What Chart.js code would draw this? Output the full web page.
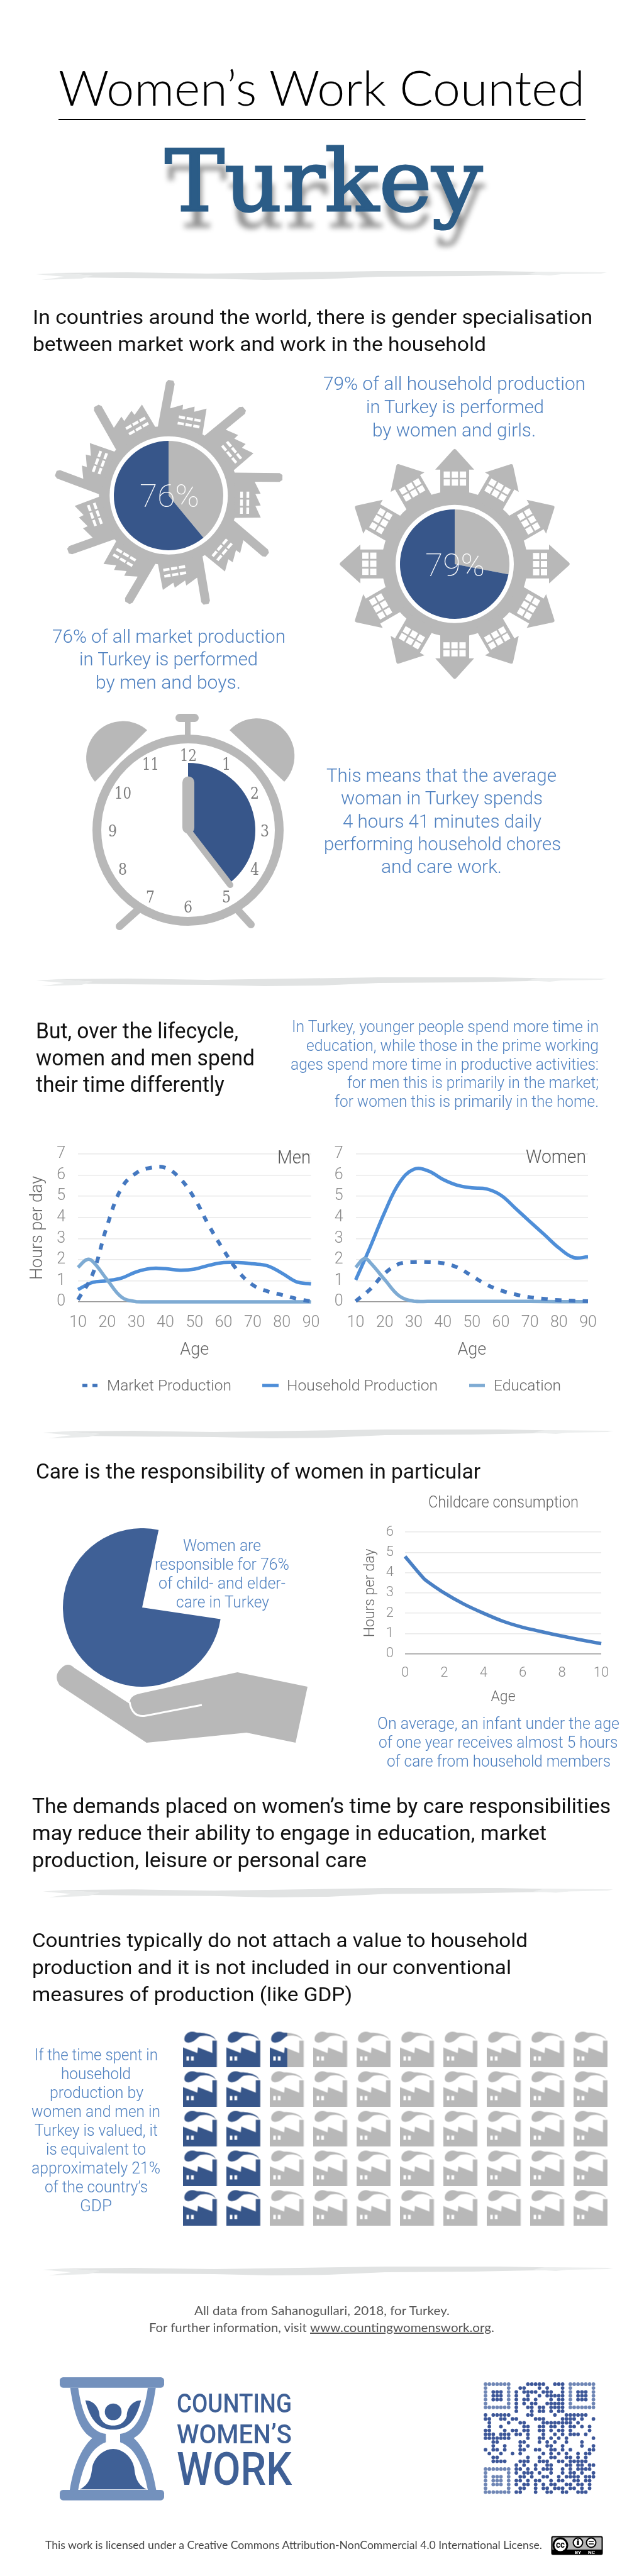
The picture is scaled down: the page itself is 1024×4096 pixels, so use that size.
<!DOCTYPE html>
<html><head><meta charset="utf-8"><title>Women's Work Counted: Turkey</title>
<script src="https://cdn.jsdelivr.net/npm/chart.js@4"></script>
<style>
html,body{margin:0;padding:0;background:#fff}
#page{position:relative;width:1024px;height:4096px;overflow:hidden;background:#fff}
#page canvas,#page svg{position:absolute}
.t{position:absolute;white-space:nowrap;transform-origin:0 0;z-index:5}
</style></head><body><div id="page"></div>
<script>
// ---------- data ----------
const marketShare=[39,61];            // grey, blue as drawn
const householdShare=[28,72];
const clockHours=[4.68,7.32];
const careShare=[24,76];
const lifeAges=[10,15,20,25,30,35,40,45,50,55,60,65,70,75,80,85,90];
const eduAges=[10,13,15,20,25,30,35,40,50,60,70,80,90];
const menMarket=[0.1,1.3,3.6,5.4,6.1,6.35,6.35,5.85,4.9,3.6,2.45,1.45,0.8,0.5,0.33,0.15,0.02];
const menHousehold=[0.58,0.92,1.0,1.13,1.42,1.58,1.57,1.5,1.55,1.73,1.86,1.86,1.8,1.71,1.36,0.95,0.85];
const menEducation=[1.63,2.0,1.92,1.05,0.22,0.01,0,0,0,0,0,0,0];
const womenMarket=[0.03,0.6,1.35,1.8,1.88,1.88,1.83,1.63,1.23,0.82,0.54,0.35,0.22,0.14,0.08,0.05,0.03];
const womenHousehold=[1.04,2.6,4.25,5.63,6.28,6.2,5.8,5.52,5.4,5.35,5.05,4.43,3.8,3.18,2.55,2.1,2.13];
const womenEducation=[1.63,2.05,1.86,1.05,0.28,0.03,0.02,0.02,0.02,0.02,0.02,0.01,0.01];
const childAges=[0,1,2,3,4,5,6,7,8,9,10];
const childCare=[4.8,3.67,3.0,2.45,2.0,1.6,1.3,1.08,0.87,0.68,0.5];
const factoryFill=[
 [1,1,0.5,0,0,0,0,0,0,0],
 [1,1,0,0,0,0,0,0,0,0],
 [1,1,0,0,0,0,0,0,0,0],
 [1,1,0,0,0,0,0,0,0,0],
 [1,1,0,0,0,0,0,0,0,0]];
const qrRows=[
"11111110000111110011101111111","10000010011000101000101000001","10111010101111011100101011101",
"10111010100100101111101011101","10111010101101000101101011101","10000010101011001111101000001",
"11111110100110110111101111111","00000000100010110101100000000","10111110000110000010011111100",
"11001101100001110000111101001","01000010011000011111111010000","01001000001100110110101101010",
"11000101101100110101101000010","11101110110100010010101110100","11111110000100110101010000001",
"00110000011000101010010001000","00100100010100001100100001001","10110100011001100110101000011",
"01001001010000010101010010110","00110000000100100110011010100","00111100011100111001101111100",
"00000000101001001100011011011","11111110110101011100101011110","10000010101110100100101101001",
"10111010011010011001011110111","10111010110101100101100110110","10111010101101010110011011010",
"10000010011001011011101101010","11111110110001001100110011100"];
// ---------- helpers ----------
const page=document.getElementById('page');
const BLUE='#4f81c0',INK='#111',GREY='#b8b8b8',NAVY='#37568a',MID='#3f6096';
const LIGHT='Roboto',HEAD='Roboto';
function line(txt,x0,x1,base,size,color,o={}){
  const d=document.createElement('div');d.className='t';d.textContent=txt;
  d.style.cssText+=`left:0;top:0;font:${o.w||300} ${size}px ${o.f||LIGHT},sans-serif;color:${color};`+(o.css||'');
  const p=document.createElement('span');p.style.cssText='display:inline-block;width:0;height:0';d.appendChild(p);
  page.appendChild(d);
  const by=p.getBoundingClientRect().bottom-page.getBoundingClientRect().top,w=d.getBoundingClientRect().width;
  p.remove();
  d.style.left=x0+'px';d.style.top=(base-by)+'px';
  d.style.transform=`scaleX(${(x1-x0)/w})`;
  return d;
}
function svgLayer(z,inner){
  const s=document.createElementNS('http://www.w3.org/2000/svg','svg');
  s.setAttribute('width',1024);s.setAttribute('height',4096);s.setAttribute('viewBox','0 0 1024 4096');
  s.style.cssText=`left:0;top:0;z-index:${z}`;s.innerHTML=inner;page.appendChild(s);return s;
}
function cvs(x,y,w,h,z=2){
  const c=document.createElement('canvas');c.width=w;c.height=h;
  c.style.cssText=`left:${x}px;top:${y}px;width:${w}px;height:${h}px;z-index:${z}`;
  page.appendChild(c);return c;
}
function pie(cx,cy,r,data,colors,rotation=0){
  new Chart(cvs(cx-r,cy-r,2*r,2*r),{type:'pie',data:{datasets:[{data,backgroundColor:colors,borderWidth:0}]},
   options:{responsive:false,animation:false,rotation,plugins:{legend:{display:false},tooltip:{enabled:false}},layout:{padding:0}}});
}
// ---------- decoration ----------
function brush(x,y,w,h){
  const X=v=>(x+w*v/100).toFixed(1),Y=v=>(y+h*v/16).toFixed(1);
  const pts=(a)=>a.map(p=>X(p[0])+','+Y(p[1])).join(' ');
  return `<polygon fill="#e1e3e3" points="${pts([[3,4],[16,3],[30,5],[45,3],[60,1],[80,1],[93,3],[92,6],[75,9],[60,10],[50,14],[40,15],[30,13],[15,12],[6,11],[10,8]])}"/>
  <polygon fill="#e9ebeb" points="${pts([[0,6],[4,4],[10,8],[8,13],[1,15],[5,10]])}"/>
  <polygon fill="#eceeee" points="${pts([[88,2],[100,3],[99,5],[92,6],[90,8],[86,6]])}"/>`;
}
function city(cx,cy){
  let g=`<circle cx="${cx}" cy="${cy}" r="111" fill="${GREY}"/><circle cx="${cx}" cy="${cy}" r="94" fill="#fff"/>`;
  for(let k=0;k<9;k++){
    const a=10.5+40*k;
    g+=`<g transform="translate(${cx} ${cy}) rotate(${a})">
    <polygon fill="${GREY}" points="-37,-104 -37,-176 -34,-180.5 -26,-180.5 -23,-176 -23,-136.7 -22.4,-136.7 -3.9,-146 -3.3,-137.8 14.7,-146.3 15.7,-138 34,-146.6 35,-104"/>`;
    for(let r=0;r<2;r++)for(let c=0;c<3;c++)g+=`<rect x="${-7+c*12.6}" y="${-128+r*10}" width="10" height="4.4" fill="#fff"/>`;
    g+='</g>';
  }
  return g;
}
function houses(cx,cy){
  let g=`<circle cx="${cx}" cy="${cy}" r="116" fill="${GREY}"/><circle cx="${cx}" cy="${cy}" r="94" fill="#fff"/>`;
  for(let k=0;k<12;k++){
    g+=`<g transform="translate(${cx} ${cy}) rotate(${30*k})"><polygon fill="${GREY}" points="-23,-105 -23,-150 -31,-150 -2,-182 0,-183 2,-182 31,-150 23,-150 23,-105"/>`;
    for(let r=0;r<2;r++)for(let c=0;c<3;c++)g+=`<rect x="${-17.5+c*12.8}" y="${-147+r*12.5}" width="10" height="10" fill="#fff"/>`;
    g+='</g>';
  }
  return g;
}
function clockBack(){
  return `<circle cx="299" cy="1320" r="145" fill="#fff" stroke="${GREY}" stroke-width="14"/>
  <rect x="294" y="1145" width="9" height="24" fill="${GREY}"/>
  <rect x="279" y="1135" width="37" height="13" rx="6.5" fill="${GREY}"/>
  <path d="M151 1243 A58.5 58.5 0 0 1 234 1161 Z" fill="${GREY}"/>
  <path d="M452 1243 A58.5 58.5 0 0 0 365 1161 Z" fill="${GREY}"/>
  <line x1="219" y1="1447" x2="190" y2="1473" stroke="${GREY}" stroke-width="12" stroke-linecap="round"/>
  <line x1="378" y1="1447" x2="399" y2="1470" stroke="${GREY}" stroke-width="12" stroke-linecap="round"/>`;
}
const clockHands=`<line x1="299.5" y1="1244" x2="299.5" y2="1316" stroke="${GREY}" stroke-width="19" stroke-linecap="round"/>
  <line x1="299" y1="1320" x2="366" y2="1407" stroke="${GREY}" stroke-width="10" stroke-linecap="round"/>`;
const handShape=`<path fill="${GREY}" d="M98 2652 Q108 2642 118 2652 L206 2709 Q206 2696 222 2693 L377.5 2659 L489 2682 L470 2771 L392 2755 L233 2771 L95 2680 Q84 2664 98 2652 Z"/>
 <path fill="none" stroke="#fff" stroke-width="3" d="M321 2711 L232 2728 Q210 2732 206 2706"/>`;
function logo(){
  const s=`<path fill="#7391bd" d="M80 80 C100 220 130 290 185 320 C130 370 95 460 78 567 L118 567 C140 460 170 370 250 340 L250 300 C170 290 135 200 118 80 Z"/>`;
  return `<g transform="translate(85 3770) scale(.3333)">
  <rect x="30" y="30" width="498" height="50" rx="16" fill="#7391bd"/><rect x="30" y="567" width="498" height="50" rx="16" fill="#7391bd"/>
  ${s}<g transform="translate(568 0) scale(-1 1)">${s}</g>
  <circle cx="285" cy="195" r="40" fill="${MID}"/>
  <path fill="${MID}" d="M152 140 C195 140 220 180 220 215 C235 255 265 260 285 260 C305 260 335 255 350 215 C350 180 375 140 418 140 C400 210 370 280 285 280 C200 280 170 210 152 140 Z"/>
  <path fill="${MID}" d="M125 565 C175 540 180 500 185 460 C195 410 240 372 285 372 C330 372 375 410 385 460 C390 500 395 540 445 565 Z"/></g>`;
}
function qr(){
  let g='';const x0=772,y0=3791,p=6.13;
  qrRows.forEach((row,r)=>{[...row].forEach((b,c)=>{
    if(b!=='1')return;
    const finder=(r<7&&c<7)||(r<7&&c>21)||(r>21&&c<7);
    const ring=finder&&!((r>=2&&r<=4)&&((c>=2&&c<=4)||(c>=24&&c<=26)));
    g+=`<circle cx="${(x0+c*p).toFixed(1)}" cy="${(y0+r*p).toFixed(1)}" r="2.9" fill="${ring?'#6f86b5':'#3c5698'}"/>`;
  })});
  return g;
}
const ccBadge=`<rect x="877.5" y="4033.5" width="80" height="28" rx="2" fill="#b5b5b5" stroke="#000" stroke-width="2"/>
 <rect x="877" y="4054" width="81" height="8" fill="#000"/>
 <circle cx="891" cy="4047" r="11" fill="#fff" stroke="#000" stroke-width="3"/>
 <circle cx="919" cy="4043" r="7.5" fill="#fff" stroke="#000" stroke-width="2"/><rect x="917.5" y="4040" width="3" height="7" fill="#000"/><circle cx="919" cy="4038.5" r="1.3" fill="#000"/>
 <circle cx="940" cy="4043" r="7.5" fill="#fff" stroke="#000" stroke-width="2"/><path d="M936 4041 H944 M936 4045 H944" stroke="#000" stroke-width="1.5"/>`;
svgLayer(1,
 `<rect x="93" y="189" width="838" height="2" fill="#000"/>`+
 brush(57,430,908,16)+brush(57,1553,908,16)+brush(68,2272,907,16)+brush(68,3001,907,17)+brush(68,3603,907,16)+
 city(268.3,787.7)+houses(723,896.7)+clockBack()+handShape+logo()+qr()+ccBadge+
 `<path d="M131 2203 H155" stroke="#3f74bb" stroke-width="5" stroke-dasharray="8 8"/><path d="M417 2203 H443" stroke="#4e8ed8" stroke-width="5"/><path d="M746 2203 H771" stroke="#7eabd3" stroke-width="5"/>`);
// ---------- pies ----------
pie(268.3,787.7,87,marketShare,[GREY,NAVY]);
pie(723,896.7,87,householdShare,[GREY,NAVY]);
pie(299,1320,107,clockHours,[NAVY,'rgba(0,0,0,0)']);
pie(226,2556,126,careShare,['rgba(0,0,0,0)',MID],12);
svgLayer(3,clockHands);
// ---------- line charts ----------
const pairs=(xs,ys)=>ys.map((y,i)=>({x:xs[i],y}));
function lineChart(box,plot,xcfg,ycfg,datasets,titles,fonts){
  const[cl,ct,cr,cb]=box,[pl,pt,pr,pb]=plot;
  const tick={family:LIGHT,weight:'300',size:fonts.tick};
  const ttl={family:LIGHT,weight:'300',size:fonts.title};
  const ch=new Chart(cvs(cl,ct,cr-cl,cb-ct),{type:'line',data:{datasets},options:{
    responsive:false,animation:false,parsing:false,
    layout:{padding:{left:0,top:pt-ct,right:cr-pr,bottom:0}},
    plugins:{legend:{display:false},tooltip:{enabled:false}},
    elements:{point:{radius:0}},
    scales:{
     x:{type:'linear',min:xcfg.min,max:xcfg.max,border:{display:false},grid:{display:false,drawTicks:false},
        ticks:{stepSize:xcfg.step,color:'#8a8a8a',font:tick,padding:fonts.xpad,maxRotation:0,autoSkip:false},
        title:{display:true,text:titles.x,color:'#666',font:ttl,padding:0},
        afterFit:s=>{s.height=cb-pb}},
     y:{type:'linear',min:0,max:ycfg.max,border:{display:false},
        grid:{drawTicks:false,lineWidth:1.5,color:c=>c.tick.value===0?'#9a9a9a':'#e9e9e9'},
        ticks:{stepSize:1,color:'#8a8a8a',font:tick,padding:fonts.ypad},
        title:{display:!!titles.y,text:titles.y,color:'#666',font:ttl,padding:0},
        afterFit:s=>{s.width=pl-cl}}
    }}});
  // label overhang is added to the layout padding: correct it so the plot sits where the reference has it
  for(let i=0;i<3;i++){
    const a=ch.chartArea,pad=ch.options.layout.padding;
    pad.top-=(ct+a.top)-pt;
    pad.right+=(cl+a.right)-pr;
    ch.update();
  }
}
const ser=(xs,ys,color,dash)=>({data:pairs(xs,ys),borderColor:color,borderWidth:dash?6:5.5,borderDash:dash||[],tension:.4,clip:false,fill:false,borderCapStyle:'butt'});
const F={tick:25,title:27,xpad:19,ypad:20};
lineChart([44,1800,530,2163],[124,1821.5,494.5,2070],{min:10,max:90,step:10},{max:7},
 [ser(lifeAges,menMarket,'#4478c0',[10,12]),ser(eduAges,menEducation,'#7eabd3'),ser(lifeAges,menHousehold,'#4e8ed8')],{x:'Age',y:'Hours per day'},F);
lineChart([525,1800,970,2163],[565.6,1821.5,935,2070],{min:10,max:90,step:10},{max:7},
 [ser(lifeAges,womenMarket,'#4478c0',[10,12]),ser(eduAges,womenEducation,'#7eabd3'),ser(lifeAges,womenHousehold,'#4e8ed8')],{x:'Age',y:''},F);
lineChart([575,2405,990,2713],[644,2428.7,956,2629.6],{min:0,max:10,step:2},{max:6},
 [ser(childAges,childCare,'#4a80c4')].map(d=>({...d,tension:.15})),{x:'Age',y:'Hours per day'},{tick:22,title:23,xpad:18,ypad:18});
// ---------- factory pictogram ----------
function factoryIcon(share){
  const c=document.createElement('canvas');c.width=55;c.height=57;const x=c.getContext('2d');
  const paint=col=>{
    x.fillStyle=col;
    x.beginPath();[[0,26],[23.3,35],[24.3,26],[47.3,35],[47.3,15.3],[54.3,15.3],[54.3,57],[0,57]].forEach((p,i)=>i?x.lineTo(p[0],p[1]):x.moveTo(p[0],p[1]));x.closePath();x.fill();
    x.beginPath();x.moveTo(2.7,12.7);x.bezierCurveTo(2.7,6,8.3,1.3,15,1);x.bezierCurveTo(18.3,.7,20.7,2.7,24,2.7);x.bezierCurveTo(33.3,2.7,50,5,52.7,14.7);x.bezierCurveTo(49.3,8.7,38.3,6,28.3,8);x.bezierCurveTo(23.3,9.3,20,16.7,10.7,18.3);x.bezierCurveTo(6,19,2.7,16.7,2.7,12.7);x.closePath();x.fill();
  };
  paint(GREY);
  if(share>0){x.save();x.beginPath();x.rect(0,0,54.3*(share===1?1:.52),57);x.clip();paint(NAVY);x.restore();}
  x.fillStyle='#fff';x.fillRect(6,40.3,4,6.7);x.fillRect(13.3,40.3,4.3,6.7);
  return c;
}
const iconFor={1:factoryIcon(1),0.5:factoryIcon(.5),0:factoryIcon(0)};
const factoryPts=[];factoryFill.forEach((row,r)=>row.forEach((v,c)=>factoryPts.push({x:c+1,y:r+1,v})));
new Chart(cvs(243.4,3189,771,390),{type:'scatter',data:{datasets:[{data:factoryPts,clip:false,pointRadius:5,
  pointStyle:c=>iconFor[factoryPts[c.dataIndex].v]}]},
  options:{responsive:false,animation:false,layout:{padding:0},plugins:{legend:{display:false},tooltip:{enabled:false}},
  scales:{x:{display:false,min:0,max:11},y:{display:false,min:0,max:6,reverse:true}}}});
// ---------- text ----------
line('Women’s Work Counted',93,930,168,76,'#000',{f:'Lato',w:300});
line('Turkey',262,767,335,134,'#2b5c87',{f:'DejaVu Serif',w:400,css:'-webkit-text-stroke:3px #2b5c87;text-shadow:4px 27px 8px rgba(0,0,0,.42);'});
const H={w:400,f:HEAD};
line('In countries around the world, there is gender specialisation',52,942,515,32,INK,H);
line('between market work and work in the household',52,773,558,32,INK,H);
[['79% of all household production',514,931,620],['in Turkey is performed',582,865,657],['by women and girls.',592,852,694],
 ['76% of all market production',83,454,1022],['in Turkey is performed',126,410,1058],['by men and boys.',152,383,1095],
 ['This means that the average',519,885,1243],['woman in Turkey spends',542,863,1279],['4 hours 41 minutes daily',545,861,1316],['performing household chores',515,892,1352],['and care work.',606,798,1388]
].forEach(a=>line(a[0],a[1],a[2],a[3],30,BLUE));
line('76%',222,317,806,50,'#fff',{w:100,css:'z-index:6;'});
line('79%',676,771,916,50,'#fff',{w:100,css:'z-index:6;'});
const clockNums=[[12,299,1210],[1,360,1224],[2,405,1270],[3,421,1330],[4,405,1391],[5,360,1435],[6,299,1451],[7,239,1435],[8,195,1391],[9,179,1330],[10,195,1270],[11,239,1224]];
clockNums.forEach(n=>{const w=n[0]>9?27:14;line(String(n[0]),n[1]-w/2,n[1]+w/2,n[2],26,'#7d7d7d',{f:'DejaVu Serif',w:400})});
line('But, over the lifecycle,',57,379,1651,35,INK,H);
line('women and men spend',57,405,1694,35,INK,H);
line('their time differently',57,357,1736,35,INK,H);
[['In Turkey, younger people spend more time in',464,1641],['education, while those in the prime working',487,1671],['ages spend more time in productive activities:',462,1700.5],['for men this is primarily in the market;',552,1730],['for women this is primarily in the home.',532,1760]
].forEach(a=>line(a[0],a[1],952,a[2],25,BLUE));
line('Men',441,494,1850,29,'#555');
line('Women',836,932,1849,29,'#555');
line('Market Production',170,368,2211,24,'#666');
line('Household Production',456,696,2211,24,'#666');
line('Education',785,892,2211,24,'#666');
line('Care is the responsibility of women in particular',57,764,2351,34,INK,H);
line('Childcare consumption',681,920,2397,25,'#666');
[['Women are',291,415,2466],['responsible for 76%',246,460,2496],['of child- and elder-',252,454,2526],['care in Turkey',280,428,2556],
 ['On average, an infant under the age',600,985,2749],['of one year receives almost 5 hours',601.5,982,2779],['of care from household members',615,971,2809]
].forEach(a=>line(a[0],a[1],a[2],a[3],25,BLUE));
line('The demands placed on women’s time by care responsibilities',51,971,2883,34,INK,H);
line('may reduce their ability to engage in education, market',51,869,2926,34,INK,H);
line('production, leisure or personal care',51,583,2969,34,INK,H);
line('Countries typically do not attach a value to household',51,839,3096,32,INK,H);
line('production and it is not included in our conventional',51,813,3139,32,INK,H);
line('measures of production (like GDP)',51,560,3182,32,INK,H);
[['If the time spent in',55,251,3276],['household',97,208,3306],['production by',79,228,3336],['women and men in',50,255,3366],['Turkey is valued, it',55,251,3396],['is equivalent to',73,232,3425.5],['approximately 21%',50,255,3456],['of the country’s',71,235,3486],['GDP',127,178,3516]
].forEach(a=>line(a[0],a[1],a[2],a[3],25,BLUE));
line('All data from Sahanogullari, 2018, for Turkey.',309,715,3681,20,'#555',{f:'Lato',w:400});
line('For further information, visit ',237,493,3708,20,'#555',{f:'Lato',w:400});
line('www.countingwomenswork.org',493,781,3708,20,'#555',{f:'Lato',w:400,css:'text-decoration:underline;'});
line('.',781,786,3708,20,'#555',{f:'Lato',w:400});
line('COUNTING',281,464,3836,43,MID,{w:500});
line('WOMEN’S',281,464,3885,43,MID,{w:500});
line('WORK',281,464,3951,73,MID,{w:500});
line('This work is licensed under a Creative Commons Attribution-NonCommercial 4.0 International License.',72,862,4053,17,'#444',{f:'Lato',w:400});
line('BY',914,924,4061,7,'#fff',{w:700,css:'z-index:6;'});
line('NC',935,946,4061,7,'#fff',{w:700,css:'z-index:6;'});
line('cc',884,898,4051,14,'#000',{w:700,css:'z-index:6;'});
</script></body></html>
